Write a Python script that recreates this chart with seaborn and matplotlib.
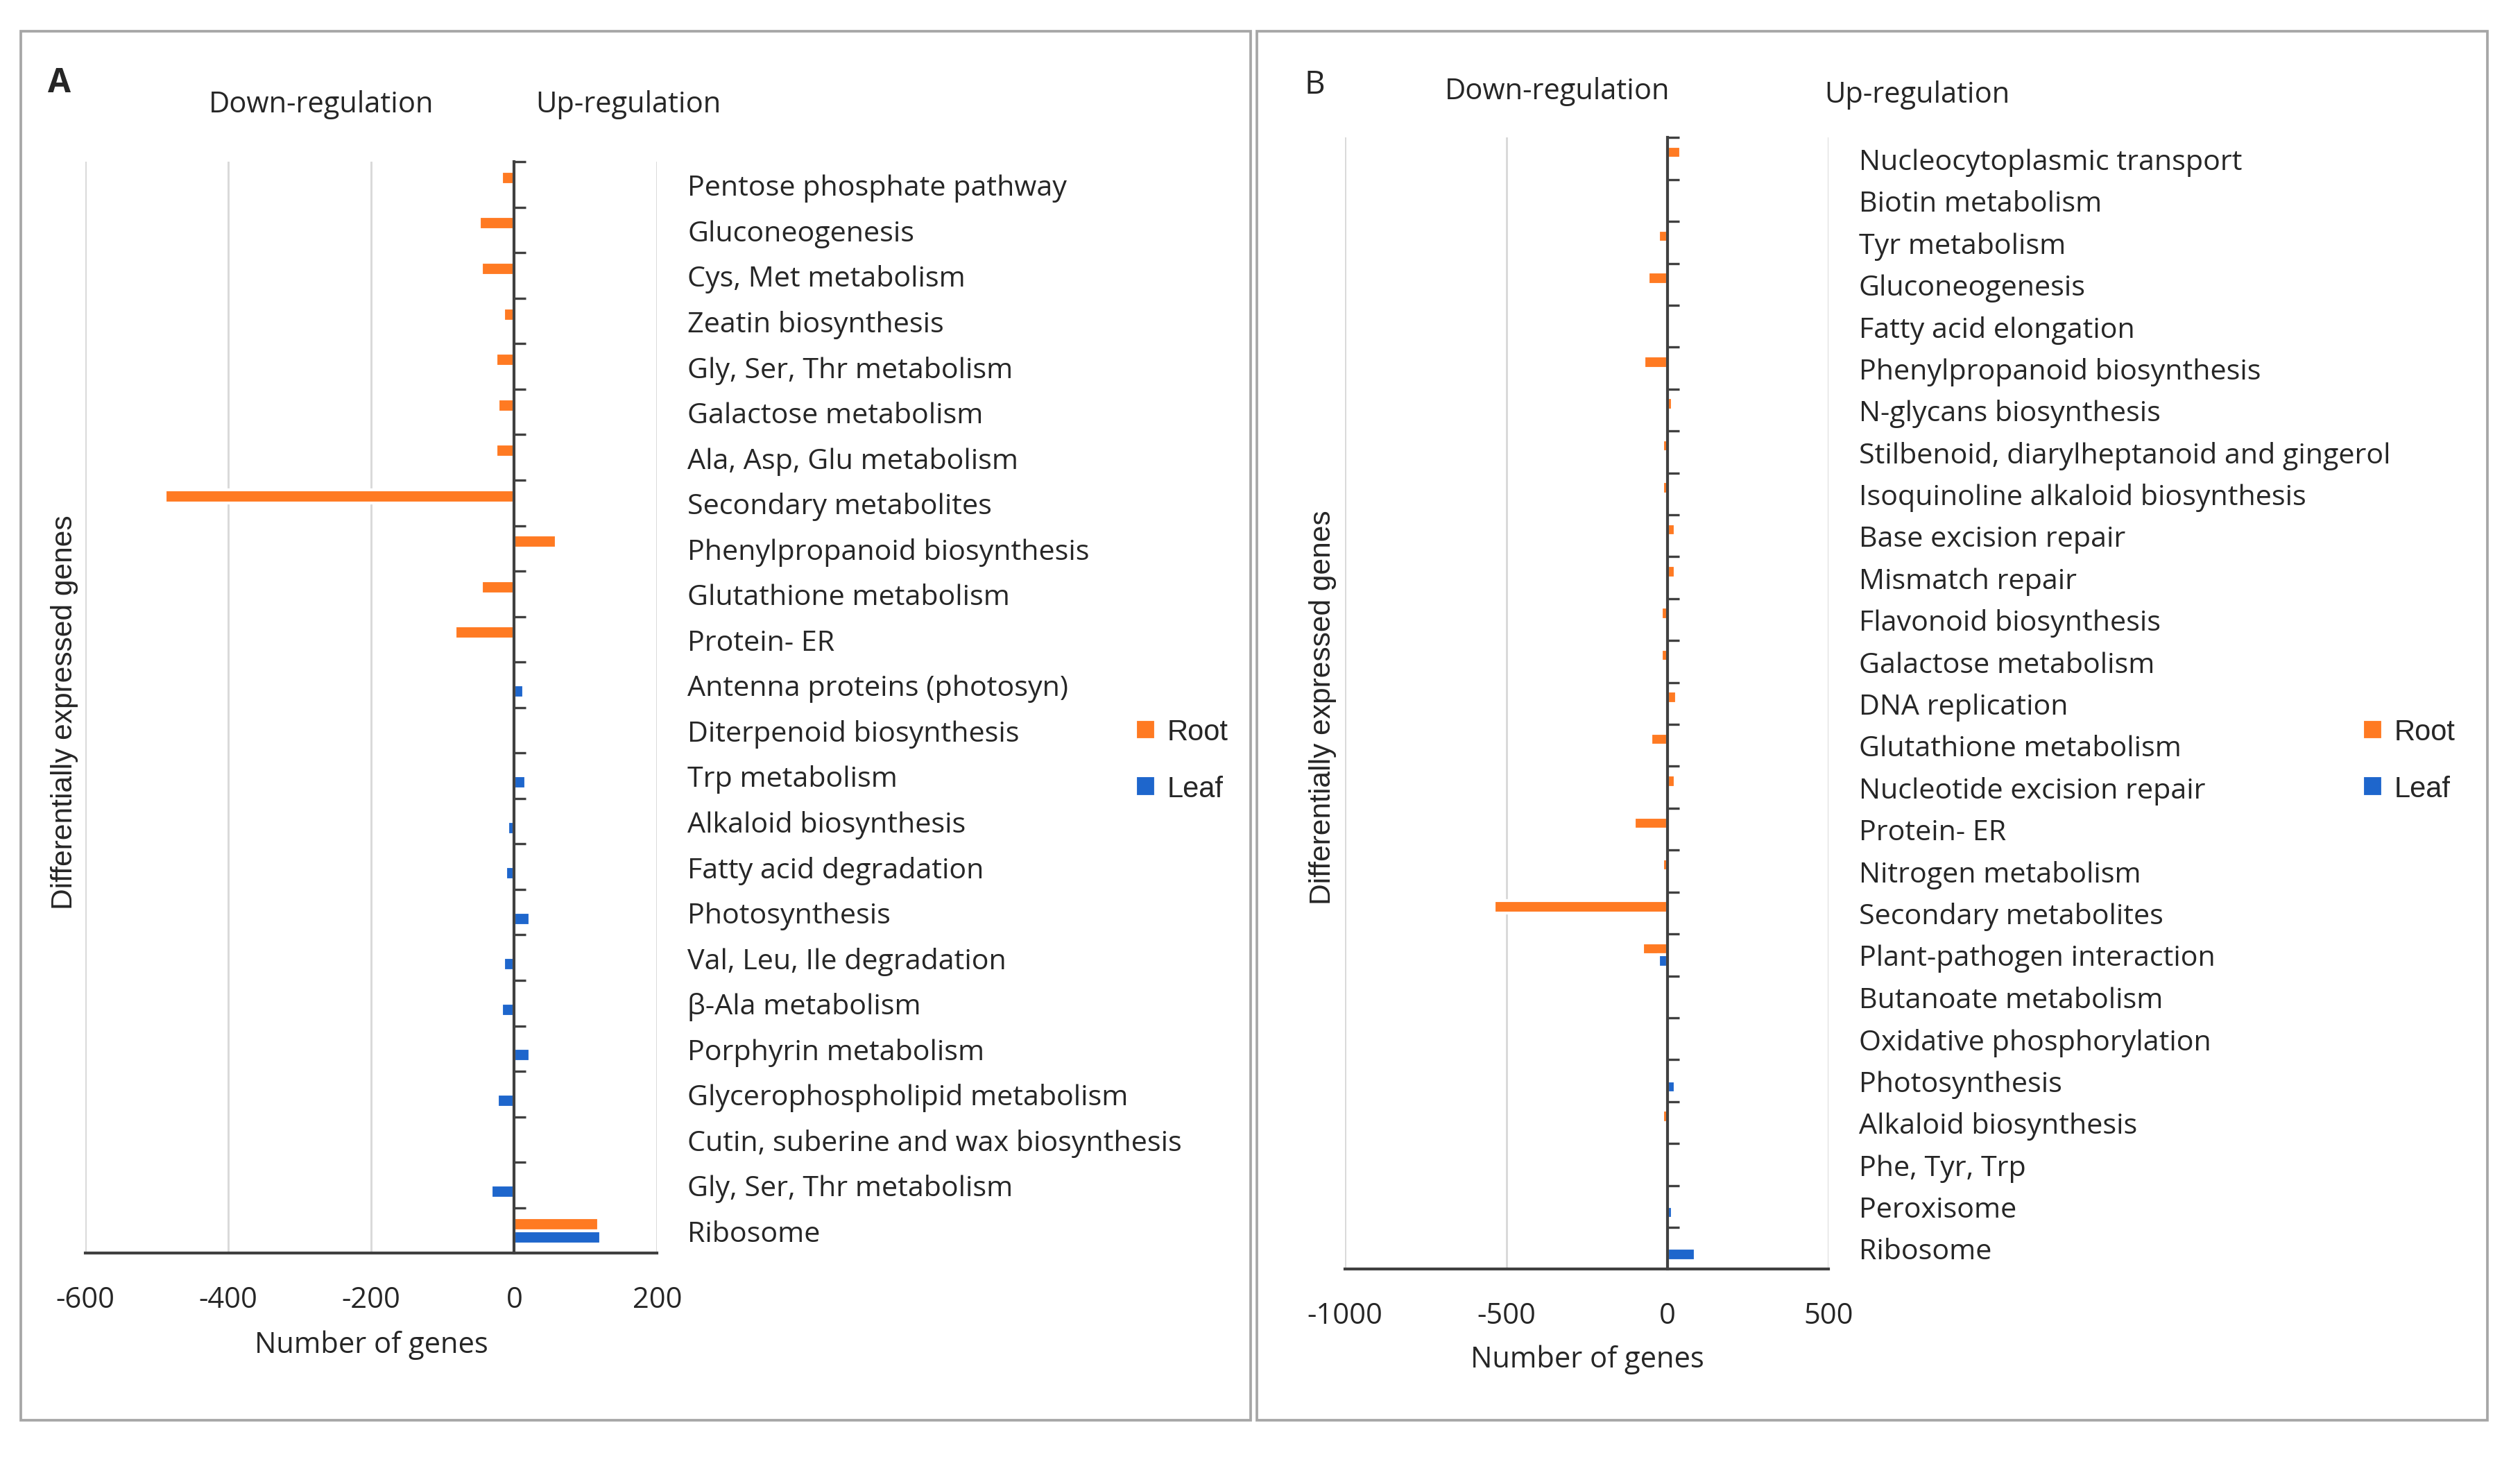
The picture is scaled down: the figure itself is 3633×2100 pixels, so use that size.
import numpy as np
import pandas as pd
import seaborn as sns
import matplotlib.pyplot as plt
from matplotlib.patches import Rectangle

# ---- data ----
cats_a = ['Pentose phosphate pathway', 'Gluconeogenesis', 'Cys, Met metabolism',
          'Zeatin biosynthesis', 'Gly, Ser, Thr metabolism', 'Galactose metabolism',
          'Ala, Asp, Glu metabolism', 'Secondary metabolites',
          'Phenylpropanoid biosynthesis', 'Glutathione metabolism', 'Protein- ER',
          'Antenna proteins (photosyn)', 'Diterpenoid biosynthesis', 'Trp metabolism',
          'Alkaloid biosynthesis', 'Fatty acid degradation', 'Photosynthesis',
          'Val, Leu, Ile degradation', 'β-Ala metabolism', 'Porphyrin metabolism',
          'Glycerophospholipid metabolism', 'Cutin, suberine and wax biosynthesis',
          'Gly, Ser, Thr metabolism', 'Ribosome']
root_a = [-18, -49, -46, -15, -26, -23, -26, -488, 59, -46, -83,
          0, 0, 0, 0, 0, 0, 0, 0, 0, 0, 0, 0, 118]
leaf_a = [0, 0, 0, 0, 0, 0, 0, 0, 0, 0, 0,
          13, 4, 16, -9, -12, 22, -15, -18, 22, -24, 4, -32, 121]

cats_b = ['Nucleocytoplasmic transport', 'Biotin metabolism', 'Tyr metabolism',
          'Gluconeogenesis', 'Fatty acid elongation', 'Phenylpropanoid biosynthesis',
          'N-glycans biosynthesis', 'Stilbenoid, diarylheptanoid and gingerol',
          'Isoquinoline alkaloid biosynthesis', 'Base excision repair',
          'Mismatch repair', 'Flavonoid biosynthesis', 'Galactose metabolism',
          'DNA replication', 'Glutathione metabolism', 'Nucleotide excision repair',
          'Protein- ER', 'Nitrogen metabolism', 'Secondary metabolites',
          'Plant-pathogen interaction', 'Butanoate metabolism',
          'Oxidative phosphorylation', 'Photosynthesis', 'Alkaloid biosynthesis',
          'Phe, Tyr, Trp', 'Peroxisome', 'Ribosome']
root_b = [42, -9, -27, -59, -9, -72, 16, -14, -14, 23, 23, -20, -20, 29,
          -52, 23, -103, -14, -538, -78, 0, 0, 0, -14, 0, 0, 0]
leaf_b = [0, 0, 0, 0, 0, 0, 0, 0, 0, 0, 0, 0, 0, 0,
          0, 0, 0, 0, 0, -27, 0, 9, 23, -7, 9, 16, 86]

xticks_a = [-600, -400, -200, 0, 200]
xticks_b = [-1000, -500, 0, 500]

ROOT = '#FF7A22'
LEAF = '#1E66CC'
AXC = '#404040'
LABEL_FONT = ['Open Sans', 'DejaVu Sans']
ARIAL = ['Liberation Sans', 'DejaVu Sans']


def long_df(cats, root, leaf):
    # slot keeps duplicate category names apart
    slots = [f'{i:02d}' for i in range(len(cats))]
    df = pd.DataFrame({'slot': slots, 'Root': root, 'Leaf': leaf})
    return df.melt(id_vars='slot', var_name='tissue', value_name='genes')


def draw_panel(ax, cats, root, leaf, xticks):
    df = long_df(cats, root, leaf)
    sns.barplot(data=df, y='slot', x='genes', hue='tissue', orient='h',
                hue_order=['Root', 'Leaf'], palette=[ROOT, LEAF], saturation=1,
                width=0.58, ax=ax, legend=True)
    n = len(cats)
    ax.set_xlim(xticks[0], xticks[-1])
    ax.set_ylim(n - 0.5, -0.5)
    ax.set_xticks(xticks)
    ax.set_xticklabels([str(t) for t in xticks], fontsize=10, family=LABEL_FONT)
    ax.xaxis.grid(True, color='#D9D9D9', lw=0.7)
    ax.set_axisbelow(True)

    ax.tick_params(axis='y', which='major', left=False, right=False,
                   labelleft=False, labelright=True, length=0, pad=10.5,
                   labelsize=9.9)
    ax.set_yticks(range(n))
    ax.set_yticklabels(cats)
    for lab in ax.get_yticklabels(which='major'):
        lab.set_family(LABEL_FONT)
    for t in ax.yaxis.get_major_ticks():
        t.label2.set_family(LABEL_FONT)
        t.label2.set_fontsize(9.9)
    ax.set_yticks(np.arange(-0.5, n - 1, 1.0), minor=True)
    ax.tick_params(axis='y', which='minor', left=True, right=False,
                   direction='in', length=4, width=0.8, color=AXC)
    ax.tick_params(axis='x', which='major', direction='out', length=8,
                   width=0.8, color=AXC, pad=3)

    ax.spines['left'].set_position(('data', 0))
    ax.spines['left'].set_color(AXC)
    ax.spines['left'].set_linewidth(1.0)
    ax.spines['bottom'].set_color(AXC)
    ax.spines['bottom'].set_linewidth(1.0)
    ax.spines['top'].set_visible(False)
    ax.spines['right'].set_visible(False)
    ax.set_xlabel('')
    ax.set_ylabel('')


sns.set_theme(style='white')
plt.rcParams['font.family'] = ['Open Sans', 'DejaVu Sans']

fig = plt.figure(figsize=(12.11, 7.003), dpi=300)

ax_a = fig.add_axes([0.0338, 0.1398, 0.2270, 0.7488])
ax_b = fig.add_axes([0.5338, 0.1288, 0.1918, 0.7764])

draw_panel(ax_a, cats_a, root_a, leaf_a, xticks_a)
draw_panel(ax_b, cats_b, root_b, leaf_b, xticks_b)

# legends
for ax, lx in [(ax_a, 0.4505), (ax_b, 0.9375)]:
    h, l = ax.get_legend_handles_labels()
    ax.legend(h, l, loc='center left', bbox_to_anchor=(lx, 0.478),
              bbox_transform=fig.transFigure, frameon=False,
              prop={'family': ARIAL, 'size': 10}, handlelength=0.7,
              handleheight=0.7, handletextpad=0.4, labelspacing=1.0,
              borderpad=0, borderaxespad=0)

# panel frames
for x0, w in [(0.0083, 0.4879), (0.4987, 0.4885)]:
    fig.patches.append(Rectangle((x0, 0.0251), w, 0.9529, transform=fig.transFigure,
                                 fill=False, edgecolor='#A6A6A6', lw=0.9))

# texts
fig.text(0.0236, 0.9427, 'A', fontsize=11.5, fontweight='bold', ha='center',
         va='center', family=LABEL_FONT)
fig.text(0.1276, 0.9283, 'Down-regulation', fontsize=10, ha='center', va='center')
fig.text(0.2494, 0.9283, 'Up-regulation', fontsize=10, ha='center', va='center')
fig.text(0.5217, 0.9416, 'B', fontsize=11, ha='center', va='center')
fig.text(0.6180, 0.9371, 'Down-regulation', fontsize=10, ha='center', va='center')
fig.text(0.7608, 0.9349, 'Up-regulation', fontsize=10, ha='center', va='center')

fig.text(0.1473, 0.0770, 'Number of genes', fontsize=10, ha='center', va='center')
fig.text(0.6298, 0.0670, 'Number of genes', fontsize=10, ha='center', va='center')

fig.text(0.0255, 0.5115, 'Differentially expressed genes', rotation=90,
         fontsize=10.2, ha='center', va='center', family=ARIAL)
fig.text(0.5249, 0.5148, 'Differentially expressed genes', rotation=90,
         fontsize=10.2, ha='center', va='center', family=ARIAL)

fig.savefig('out.png', dpi=300, facecolor='white')
